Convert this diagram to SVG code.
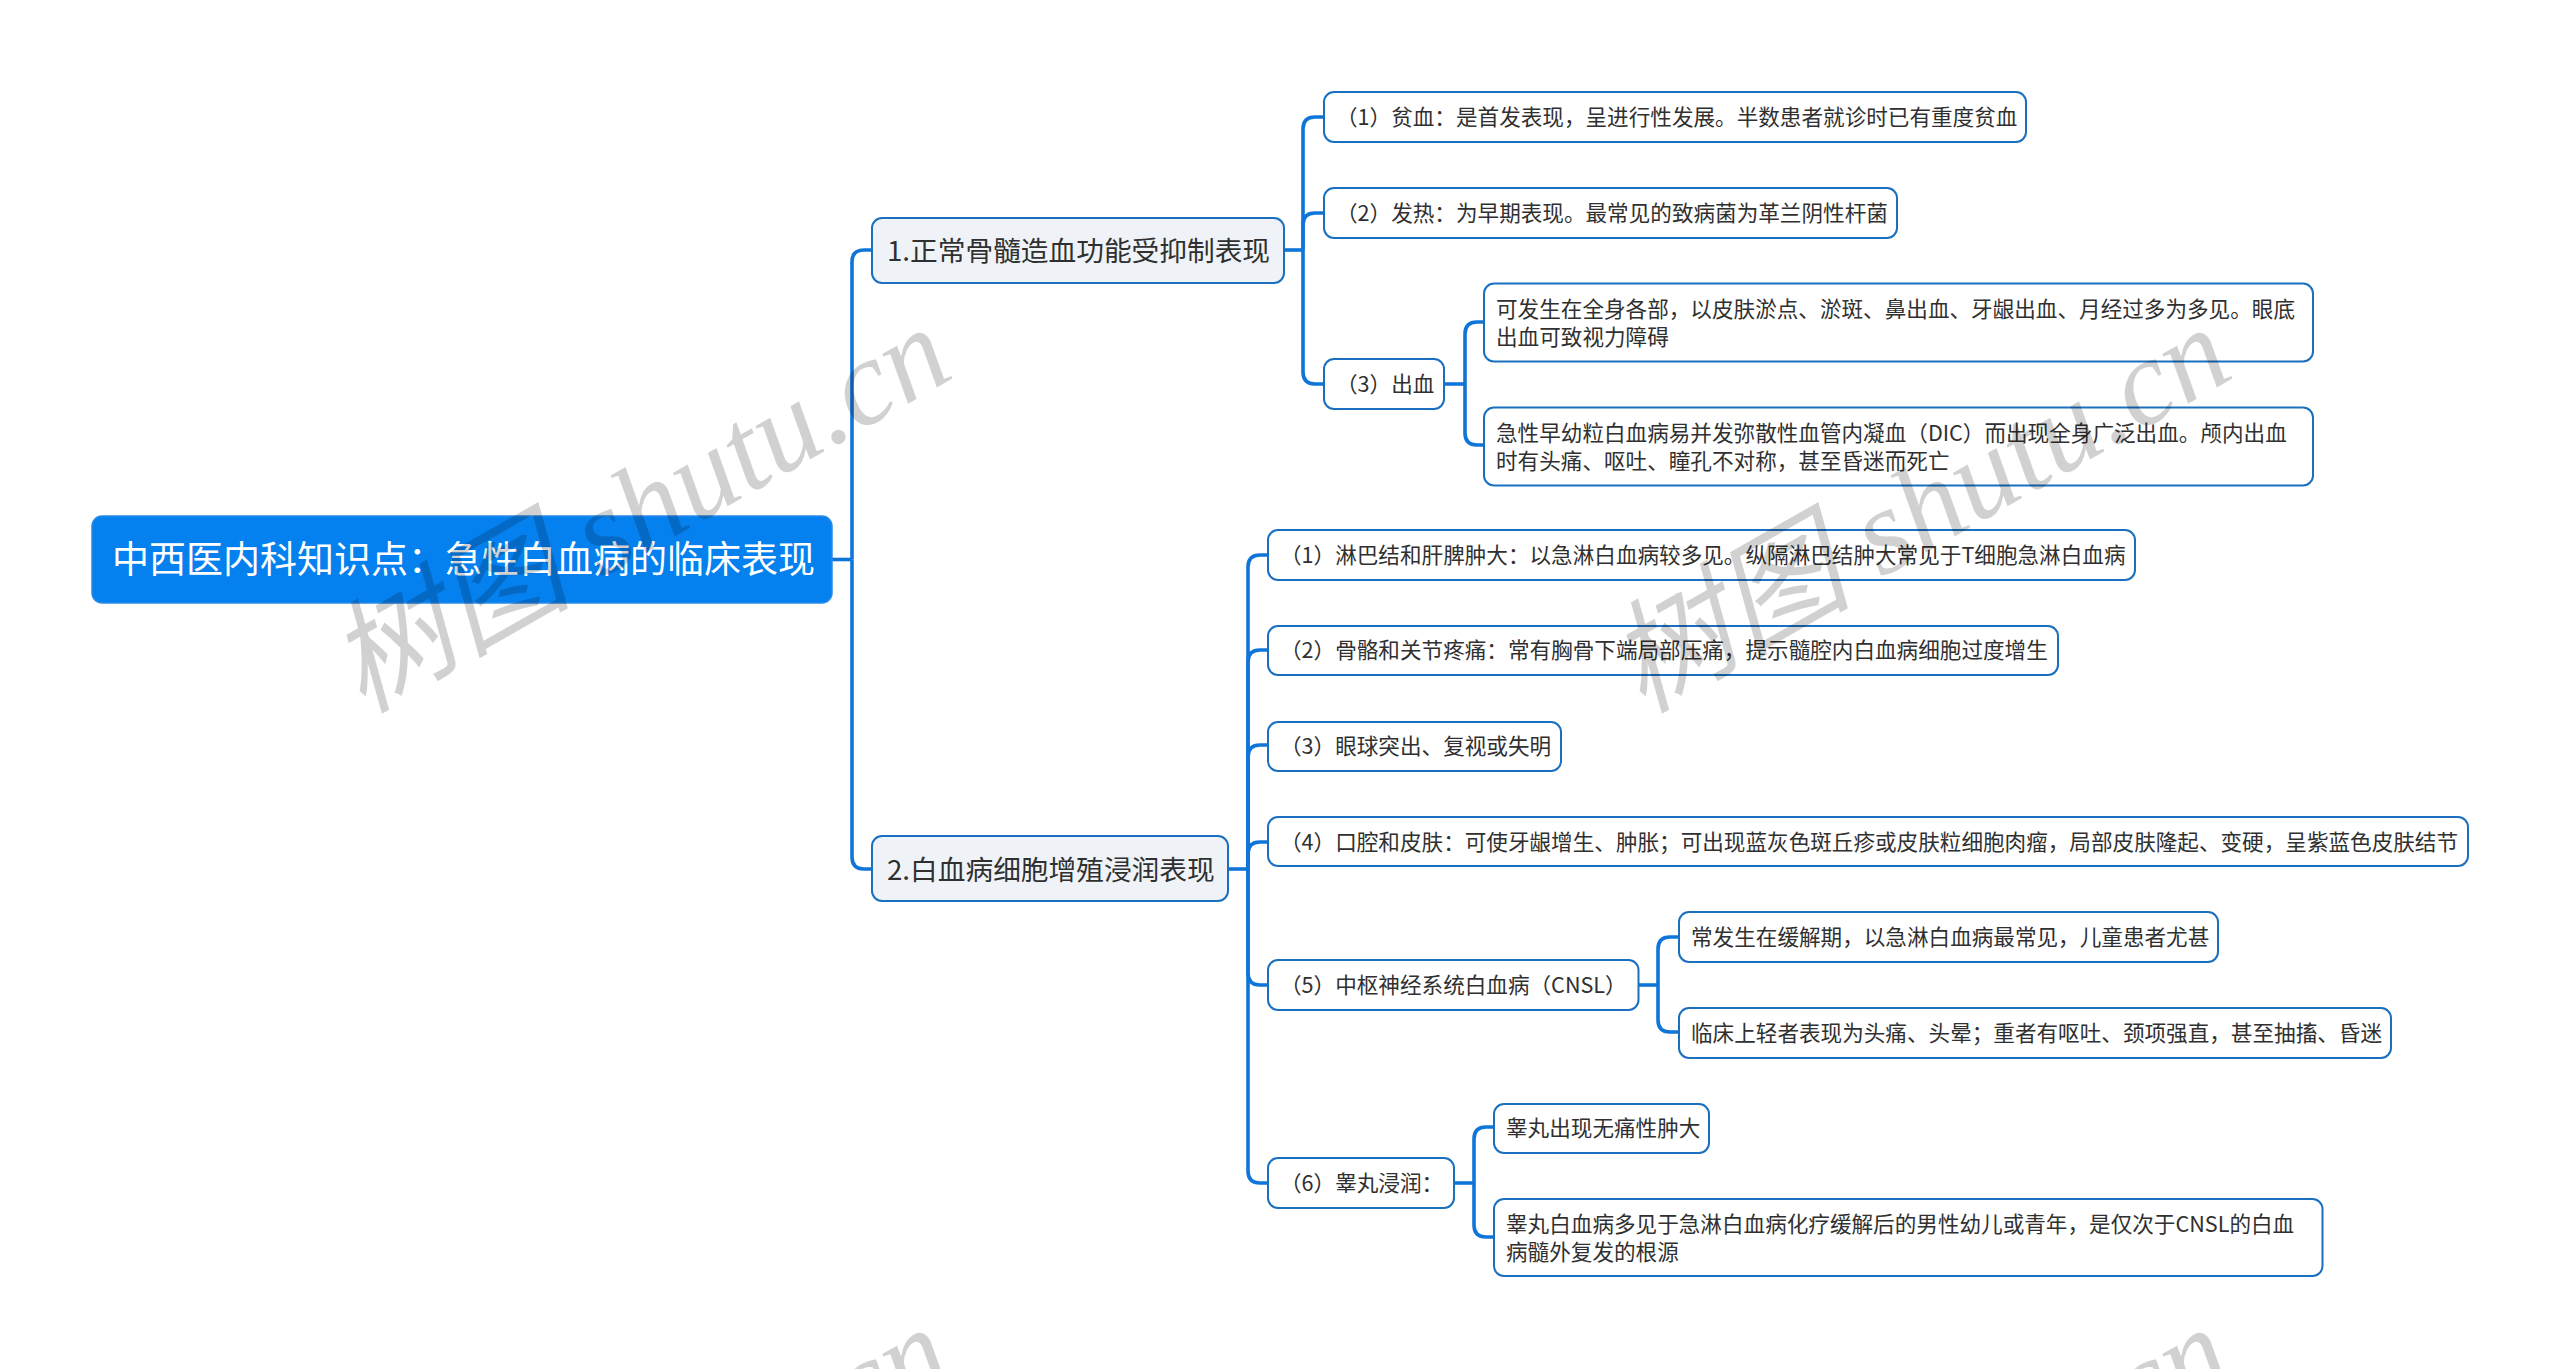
<svg xmlns="http://www.w3.org/2000/svg" width="2560" height="1369" viewBox="0 0 2560 1369">
<style>
text{font-family:"Noto Sans CJK SC","Noto Sans",sans-serif;fill:#303030;font-weight:400}
.leaf rect{fill:#fff;stroke:#1a70bf;stroke-width:2}
.branch rect{fill:#eff3f7;stroke:#1a70bf;stroke-width:2}
.root rect{fill:#0580ef;stroke:#2a8be6;stroke-width:1.5}
.leaf text{font-size:21.6px}
.branch text{font-size:27.7px}
.root text{font-size:37px;fill:#fff}
#connectors path{fill:none;stroke:#1075d8;stroke-width:3.6}
text.wm{font-family:"Liberation Serif","Noto Sans CJK SC",serif;font-style:italic;font-size:122px;fill:#000;fill-opacity:.18}
</style>
<rect width="2560" height="1369" fill="#fff"/>
<g id="connectors">
<path d="M832 559.5H852"/>
<path d="M852 559.5V262Q852 250 864 250H872"/>
<path d="M852 559.5V857Q852 869 864 869H872"/>
<path d="M1284 250H1303"/>
<path d="M1303 250V129Q1303 117 1315 117H1324"/>
<path d="M1303 250V225Q1303 213 1315 213H1324"/>
<path d="M1303 250V372Q1303 384 1315 384H1324"/>
<path d="M1444 384H1465"/>
<path d="M1465 384V334Q1465 322 1477 322H1484"/>
<path d="M1465 384V433Q1465 445 1477 445H1484"/>
<path d="M1228 869H1248"/>
<path d="M1248 869V567Q1248 555 1260 555H1268"/>
<path d="M1248 869V662Q1248 650 1260 650H1268"/>
<path d="M1248 869V757Q1248 745 1260 745H1268"/>
<path d="M1248 869V854Q1248 842 1260 842H1268"/>
<path d="M1248 869V973Q1248 985 1260 985H1268"/>
<path d="M1248 869V1171Q1248 1183 1260 1183H1268"/>
<path d="M1638 985H1658"/>
<path d="M1658 985V949Q1658 937 1670 937H1679"/>
<path d="M1658 985V1020Q1658 1032 1670 1032H1679"/>
<path d="M1454 1183H1474"/>
<path d="M1474 1183V1139Q1474 1127 1486 1127H1494"/>
<path d="M1474 1183V1225Q1474 1237 1486 1237H1494"/>
</g>
<g id="root" class="root"><rect x="92" y="516" width="740" height="87" rx="10"/><text x="112" y="573">中西医内科知识点：急性白血病的临床表现</text></g>
<g id="b1" class="branch"><rect x="872" y="218" width="412" height="65" rx="10"/><text x="887" y="261">1.正常骨髓造血功能受抑制表现</text></g>
<g id="b2" class="branch"><rect x="872" y="836" width="356" height="65" rx="10"/><text x="887" y="880">2.白血病细胞增殖浸润表现</text></g>
<g id="n1" class="leaf"><rect x="1324" y="92" width="702" height="50" rx="10"/><text x="1336" y="125">（1）贫血：是首发表现，呈进行性发展。半数患者就诊时已有重度贫血</text></g>
<g id="n2" class="leaf"><rect x="1324" y="188" width="573" height="50" rx="10"/><text x="1336" y="221">（2）发热：为早期表现。最常见的致病菌为革兰阴性杆菌</text></g>
<g id="n3" class="leaf"><rect x="1324" y="359" width="120" height="50" rx="10"/><text x="1336" y="392">（3）出血</text></g>
<g id="n3a" class="leaf"><rect x="1484" y="283.500" width="829" height="78" rx="10"/><text x="1496" y="317">可发生在全身各部，以皮肤淤点、淤斑、鼻出血、牙龈出血、月经过多为多见。眼底</text><text x="1496" y="345">出血可致视力障碍</text></g>
<g id="n3b" class="leaf"><rect x="1484" y="407.500" width="829" height="78" rx="10"/><text x="1496" y="441">急性早幼粒白血病易并发弥散性血管内凝血（DIC）而出现全身广泛出血。颅内出血</text><text x="1496" y="469">时有头痛、呕吐、瞳孔不对称，甚至昏迷而死亡</text></g>
<g id="m1" class="leaf"><rect x="1268" y="530" width="867" height="50" rx="10"/><text x="1280" y="563">（1）淋巴结和肝脾肿大：以急淋白血病较多见。纵隔淋巴结肿大常见于T细胞急淋白血病</text></g>
<g id="m2" class="leaf"><rect x="1268" y="626" width="790" height="49" rx="10"/><text x="1280" y="658">（2）骨骼和关节疼痛：常有胸骨下端局部压痛，提示髓腔内白血病细胞过度增生</text></g>
<g id="m3" class="leaf"><rect x="1268" y="722" width="293" height="49" rx="10"/><text x="1280" y="754">（3）眼球突出、复视或失明</text></g>
<g id="m4" class="leaf"><rect x="1268" y="817" width="1200" height="49" rx="10"/><text x="1280" y="850">（4）口腔和皮肤：可使牙龈增生、肿胀；可出现蓝灰色斑丘疹或皮肤粒细胞肉瘤，局部皮肤隆起、变硬，呈紫蓝色皮肤结节</text></g>
<g id="m5" class="leaf"><rect x="1268" y="960" width="370.500" height="50" rx="10"/><text x="1280" y="993">（5）中枢神经系统白血病（CNSL）</text></g>
<g id="m5a" class="leaf"><rect x="1679" y="912" width="539" height="50" rx="10"/><text x="1691" y="945">常发生在缓解期，以急淋白血病最常见，儿童患者尤甚</text></g>
<g id="m5b" class="leaf"><rect x="1679" y="1008" width="712" height="50" rx="10"/><text x="1691" y="1041">临床上轻者表现为头痛、头晕；重者有呕吐、颈项强直，甚至抽搐、昏迷</text></g>
<g id="m6" class="leaf"><rect x="1268" y="1158" width="186" height="50" rx="10"/><text x="1280" y="1191">（6）睾丸浸润：</text></g>
<g id="m6a" class="leaf"><rect x="1494" y="1104" width="215" height="49" rx="10"/><text x="1506" y="1136">睾丸出现无痛性肿大</text></g>
<g id="m6b" class="leaf"><rect x="1494" y="1199" width="828.500" height="77" rx="10"/><text x="1506" y="1232">睾丸白血病多见于急淋白血病化疗缓解后的男性幼儿或青年，是仅次于CNSL的白血</text><text x="1506" y="1260">病髓外复发的根源</text></g>
<defs><text id="wmt" class="wm" transform="translate(362 714) rotate(-29.6)">树图 shutu.cn</text></defs>
<g id="watermarks">
<use href="#wmt"/>
<use href="#wmt" x="1280"/>
<use href="#wmt" y="1000"/>
<use href="#wmt" x="1280" y="1000"/>
</g>
</svg>
